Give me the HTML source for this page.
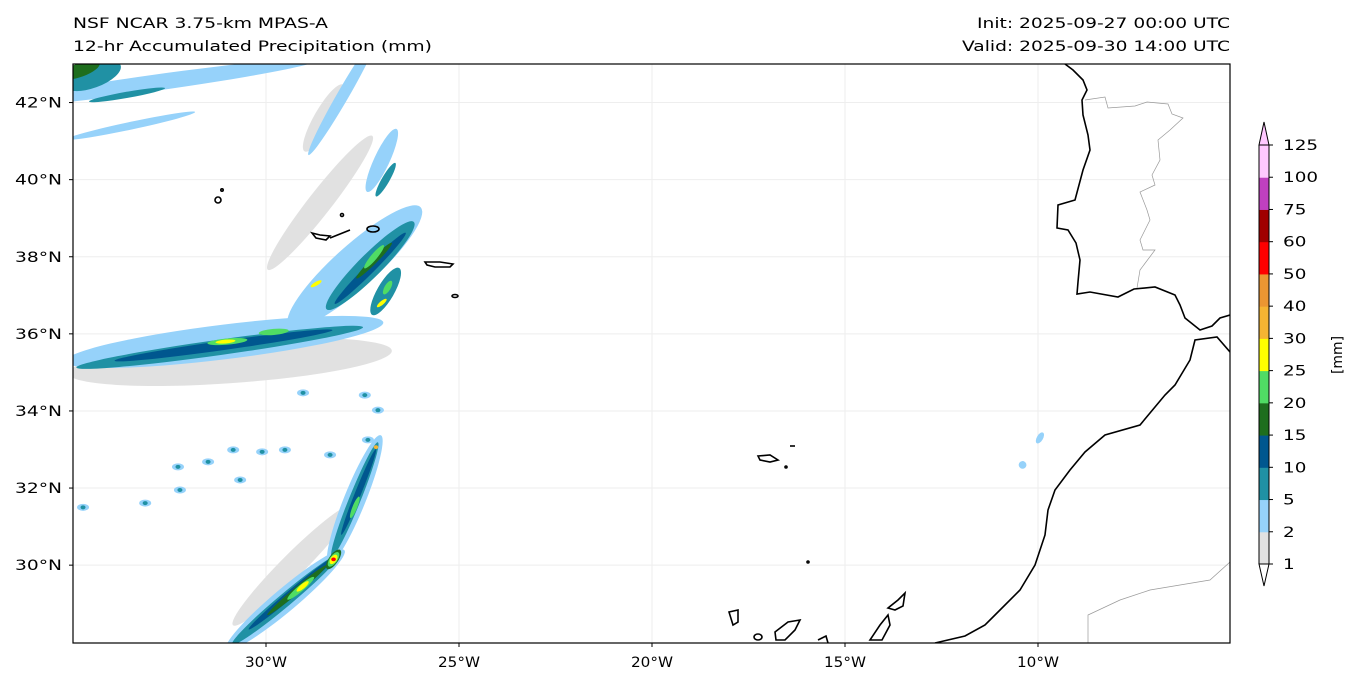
<!DOCTYPE html>
<html><head><meta charset="utf-8"><style>
body{margin:0;background:#fff;font-family:"Liberation Sans","DejaVu Sans",sans-serif}
svg{display:block}
text{font-family:"DejaVu Sans","Liberation Sans",sans-serif;fill:#000}
</style></head><body>
<svg id="c" width="1361" height="687" viewBox="0 0 1361 687">
<defs><clipPath id="mc"><rect x="73" y="64" width="1157" height="579"/></clipPath></defs>
<text x="73" y="28" font-size="14" textLength="255" lengthAdjust="spacingAndGlyphs">NSF NCAR 3.75-km MPAS-A</text>
<text x="73" y="51" font-size="14" textLength="359" lengthAdjust="spacingAndGlyphs">12-hr Accumulated Precipitation (mm)</text>
<text x="977" y="28" font-size="14" textLength="253" lengthAdjust="spacingAndGlyphs">Init: 2025-09-27 00:00 UTC</text>
<text x="962" y="51" font-size="14" textLength="268" lengthAdjust="spacingAndGlyphs">Valid: 2025-09-30 14:00 UTC</text>
<g id="grid"></g>
<g id="rain" clip-path="url(#mc)"></g>
<g clip-path="url(#mc)" fill="none">
<path stroke="#000" stroke-width="1.6" d="M1065,64 L1073,70 1083,80 1087,90 1082,100 1083,115 1088,135 1090,150 1083,170 1075,200 1058,205 1057,228 1068,230 1076,243 1080,260 1078,282 1077,294 1090,292 1118,297 1134,289 1155,287 1175,295 1180,305 1185,318 1200,330 1212,326 1220,318 1230,315"/>
<path stroke="#000" stroke-width="1.6" d="M1230,352 L1217,337 1195,340 1190,360 1175,385 1165,395 1140,425 1105,435 1085,452 1070,470 1055,490 1048,510 1045,535 1035,565 1020,590 995,615 985,625 965,636 935,643"/>
<path stroke="#999" stroke-width="0.7" d="M1085,100 L1105,97 1108,108 1135,106 1147,102 1168,104 1172,114 1183,118 1170,130 1158,140 1160,160 1152,175 1155,185 1140,192 1147,210 1150,220 1140,240 1143,250 1155,250 1140,270 1137,288"/>
<path stroke="#999" stroke-width="0.7" d="M1088,643 L1088,615 1120,600 1150,590 1180,585 1210,580 1230,562"/>
<g stroke="#000" stroke-width="1.6">
<ellipse cx="218" cy="200" rx="3" ry="3"/><circle cx="222" cy="190" r="1.2"/>
<path d="M312,233 L320,235 330,236 326,240 316,238Z"/><path d="M330,238 L350,230"/><circle cx="342" cy="215" r="1.5"/>
<ellipse cx="373" cy="229" rx="6" ry="3"/>
<path d="M425,262 L440,262 453,264 450,267 435,267 427,265Z"/><ellipse cx="455" cy="296" rx="3" ry="1.5"/>
<path d="M758,456 L770,455 778,460 770,462 760,460Z"/><path d="M790,446 L795,446"/><circle cx="786" cy="467" r="1"/>
<circle cx="808" cy="562" r="1"/>
<path d="M729,612 L738,610 738,622 733,625Z"/><ellipse cx="758" cy="637" rx="4" ry="3"/>
<path d="M775,632 L788,622 800,620 795,630 785,640 776,640Z"/><path d="M818,640 L826,636 828,643"/>
<path d="M870,640 L880,625 888,615 890,625 882,640Z"/><path d="M888,608 L898,600 905,593 903,606 895,610Z"/>
</g></g>
<rect x="73" y="64" width="1157" height="579" fill="none" stroke="#000" stroke-width="1.2"/>
<g id="axes"></g>
<g id="cbar"></g>
<text transform="translate(1342,336) rotate(-90)" font-size="14" textLength="38" lengthAdjust="spacingAndGlyphs" x="-38">[mm]</text>
</svg>
<script>
const lonTicks=[-30,-25,-20,-15,-10];
const latTicks=[30,32,34,36,38,40,42];
const cbLevels=[1,2,5,10,15,20,25,30,40,50,60,75,100,125];
const cbColors=["#e1e1e1","#96d2fa","#2091a4","#00578f","#1e6e1e","#50dc64","#ffff00","#f5b432","#eb9632","#ff0000","#a00000","#c040c0","#ffc8ff"];
// rain cells: [lon, lat, half-length deg, half-width deg, angle deg, level index]
const cells=[
[-30.93,35.27,4.2,0.55,-4,0],[-28.6,39.4,2.2,0.3,-52,0],[-29.3,30.0,2.2,0.3,-45,0],[-28.5,41.6,1.0,0.25,-60,0],
[-31.08,35.79,4.15,0.45,-7,1],[-27.7,37.74,2.3,0.55,-42,1],[-32.97,42.5,4.4,0.21,-8,1],[-33.5,41.4,1.7,0.1,-12,1],
[-28.0,42.2,1.8,0.15,-60,1],[-27.0,40.5,0.9,0.2,-65,1],[-29.5,29.1,2.0,0.3,-40,1],[-27.7,31.7,1.8,0.28,-68,1],
[-9.95,33.3,0.16,0.08,-60,1],[-10.4,32.6,0.1,0.1,-60,1],
[-31.2,35.65,3.75,0.2,-8,2],[-27.3,37.77,1.6,0.3,-45,2],[-26.9,37.1,0.7,0.22,-60,2],[-29.5,29.1,1.8,0.17,-40,2],[-27.7,31.7,1.6,0.15,-68,2],[-26.9,40.0,0.5,0.1,-60,2],
[-34.5,42.7,0.78,0.32,-20,2],[-33.6,42.2,1.0,0.08,-10,2],
[-31.1,35.7,2.85,0.12,-8,3],[-27.3,37.7,1.3,0.12,-45,3],[-29.3,29.3,1.5,0.1,-40,3],[-27.6,31.9,1.2,0.08,-68,3],
[-34.8,42.85,0.52,0.18,-20,4],[-27.2,37.9,0.65,0.08,-45,4],[-29.2,29.35,1.0,0.08,-40,4],[-28.25,30.15,0.3,0.12,-55,4],
[-31.0,35.8,0.52,0.08,-5,5],[-29.8,36.05,0.39,0.08,-5,5],[-27.2,38.0,0.39,0.08,-50,5],[-28.25,30.15,0.22,0.1,-55,5],[-29.1,29.4,0.45,0.08,-40,5],[-26.85,37.2,0.2,0.08,-60,5],[-27.7,31.5,0.3,0.06,-68,5],
[-31.05,35.8,0.26,0.05,-5,6],[-29.05,29.45,0.2,0.06,-40,6],[-28.7,37.3,0.16,0.05,-30,6],[-27.0,36.8,0.16,0.05,-40,6],[-28.25,30.15,0.14,0.08,-55,6],
[-28.25,30.15,0.06,0.05,0,9],[-27.15,33.06,0.06,0.05,0,7]
];
const dots=[[-29.04,34.47],[-27.44,34.41],[-27.1,34.02],[-27.36,33.25],[-29.51,32.99],[-30.1,32.94],[-30.85,32.99],[-31.5,32.68],[-32.28,32.55],[-30.67,32.21],[-32.23,31.95],[-33.13,31.61],[-34.74,31.5],[-28.34,32.86]];
const NS="http://www.w3.org/2000/svg";
const X=lon=>73+(lon+35)*38.6, Y=lat=>64+(43-lat)*38.55;
function el(t,a,p){const e=document.createElementNS(NS,t);for(const k in a)e.setAttribute(k,a[k]);p.appendChild(e);return e;}
const grid=document.getElementById('grid'),axes=document.getElementById('axes'),rain=document.getElementById('rain'),cb=document.getElementById('cbar');
lonTicks.forEach(v=>{const x=X(v);
 const g=el('line',{x1:x,x2:x,y1:64,y2:643,stroke:'#eee','stroke-width':1},grid);
 
 
 const t=el('line',{x1:x,x2:x,y1:643,y2:647,stroke:'#000'},axes);
 
 
 const l=el('text',{x:x-21,y:667,'font-size':14,textLength:42,lengthAdjust:'spacingAndGlyphs'},axes);l.textContent=(-v)+'°W';
 
 });
latTicks.forEach(v=>{const y=Y(v);
 const g=el('line',{x1:73,x2:1230,y1:y,y2:y,stroke:'#eee','stroke-width':1},grid);
 
 
 const t=el('line',{x1:69,x2:73,y1:y,y2:y,stroke:'#000'},axes);
 
 
 const l=el('text',{x:15,y:y+5,'font-size':14,textLength:47,lengthAdjust:'spacingAndGlyphs'},axes);l.textContent=v+'°N';
 
 });
cells.forEach(c=>{const e=el('ellipse',{cx:X(c[0]),cy:Y(c[1]),rx:c[2]*38.6,ry:c[3]*38.6,fill:cbColors[c[5]],transform:`rotate(${c[4]} ${X(c[0])} ${Y(c[1])})`},rain);
 
 });
dots.forEach(d=>{const a=el('ellipse',{cx:X(d[0]),cy:Y(d[1]),rx:6,ry:3.5,fill:cbColors[1]},rain);
 
 
 const b=el('ellipse',{cx:X(d[0]),cy:Y(d[1]),rx:2.5,ry:2,fill:cbColors[2]},rain);
 
 });
// colorbar
const cbX=1259,cbW=10,cbTop=145,cbBot=564,cbSeg=(cbBot-cbTop)/cbColors.length;
cbColors.forEach((c,i)=>{const r=el('rect',{x:cbX,y:cbBot-(i+1)*cbSeg,width:cbW,height:cbSeg+0.5,fill:c},cb);
 
 });
const tp=el('path',{d:`M${cbX},${cbTop} L${cbX+cbW/2},122 L${cbX+cbW},${cbTop}Z`,fill:'#ffc8ff',stroke:'#000','stroke-width':1},cb);


const bp=el('path',{d:`M${cbX},${cbBot} L${cbX+cbW/2},586 L${cbX+cbW},${cbBot}Z`,fill:'#fff',stroke:'#000','stroke-width':1},cb);


const fr=el('path',{d:`M${cbX},${cbTop} L${cbX},${cbBot} M${cbX+cbW},${cbTop} L${cbX+cbW},${cbBot}`,stroke:'#000','stroke-width':1,fill:'none'},cb);


cbLevels.forEach((v,i)=>{const y=cbBot-i*cbSeg;
 const t=el('line',{x1:cbX+cbW,x2:cbX+cbW+4,y1:y,y2:y,stroke:'#000'},cb);
 
 
 const l=el('text',{x:1283,y:y+5,'font-size':14,textLength:String(v).length*11.7,lengthAdjust:'spacingAndGlyphs'},cb);l.textContent=v;
 
 });
</script>
</body></html>
